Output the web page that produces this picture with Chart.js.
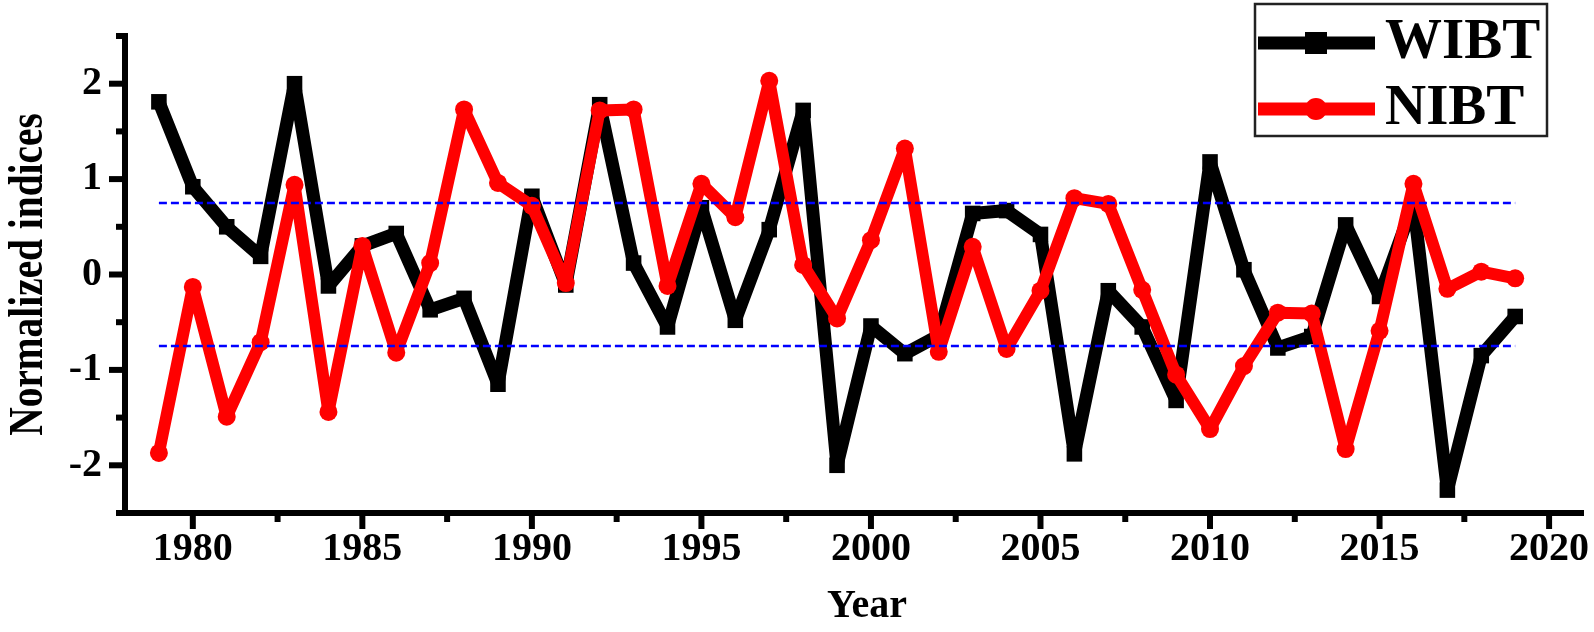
<!DOCTYPE html>
<html>
<head>
<meta charset="utf-8">
<script src="https://cdn.jsdelivr.net/npm/chart.js@4.4.0/dist/chart.umd.min.js"></script>
<style>
  html, body { margin: 0; padding: 0; background: #fff; }
  #wrap { width: 1594px; height: 632px; }
</style>
</head>
<body>
<div id="wrap"><canvas id="myChart" width="1594" height="632"></canvas></div>
<script>
// years 1979 - 2019
const years = [1979, 1980, 1981, 1982, 1983, 1984, 1985, 1986, 1987, 1988,
  1989, 1990, 1991, 1992, 1993, 1994, 1995, 1996, 1997, 1998,
  1999, 2000, 2001, 2002, 2003, 2004, 2005, 2006, 2007, 2008,
  2009, 2010, 2011, 2012, 2013, 2014, 2015, 2016, 2017, 2018, 2019];

const wibt = [1.81, 0.92, 0.50, 0.19, 2.00, -0.12, 0.30, 0.43, -0.37, -0.25,
  -1.15, 0.82, -0.11, 1.78, 0.12, -0.55, 0.70, -0.48, 0.47, 1.72,
  -2.00, -0.54, -0.83, -0.64, 0.64, 0.67, 0.42, -1.88, -0.17, -0.55,
  -1.32, 1.18, 0.05, -0.77, -0.65, 0.52, -0.23, 0.75, -2.26, -0.85, -0.44];

const nibt = [-1.87, -0.13, -1.49, -0.71, 0.94, -1.44, 0.30, -0.82, 0.12, 1.73,
  0.96, 0.72, -0.09, 1.72, 1.73, -0.12, 0.95, 0.60, 2.03, 0.10,
  -0.46, 0.36, 1.32, -0.81, 0.29, -0.78, -0.17, 0.80, 0.74, -0.16,
  -1.05, -1.62, -0.96, -0.40, -0.41, -1.83, -0.59, 0.95, -0.15, 0.03, -0.04];

// +-0.75 reference lines
const refYears = [1979, 2019];
const upperRef = [0.75, 0.75];
const lowerRef = [-0.75, -0.75];

const xLabels = [1980, 1985, 1990, 1995, 2000, 2005, 2010, 2015, 2020];
const yLabels = [-2, -1, 0, 1, 2];

const FONT = '"Liberation Serif", "Times New Roman", serif';

function pts(xs, ys) {
  return xs.map((x, i) => ({ x: x, y: ys[i] }));
}

// tick marks drawn outward, long at labels, short halfway
const axisTicks = {
  id: 'axisTicks',
  afterDraw(chart) {
    const ctx = chart.ctx;
    const xs = chart.scales.x, ys = chart.scales.y;
    const area = chart.chartArea;
    ctx.save();
    ctx.strokeStyle = '#000';
    ctx.lineWidth = 6;
    ctx.lineCap = 'butt';
    for (let v = xLabels[0]; v <= xLabels[xLabels.length - 1]; v += 2.5) {
      const px = xs.getPixelForValue(v);
      const len = xLabels.includes(v) ? 16 : 9;
      ctx.beginPath();
      ctx.moveTo(px, area.bottom);
      ctx.lineTo(px, area.bottom + len);
      ctx.stroke();
    }
    for (let v = ys.min; v <= ys.max + 0.001; v += 0.5) {
      const py = ys.getPixelForValue(v);
      const len = yLabels.includes(v) ? 16 : 9;
      ctx.beginPath();
      ctx.moveTo(area.left, py);
      ctx.lineTo(area.left - len, py);
      ctx.stroke();
    }

    // axis titles (the y one is narrow like in the figure)
    ctx.fillStyle = '#000';
    ctx.textAlign = 'center';
    ctx.textBaseline = 'alphabetic';
    ctx.font = 'bold 40px ' + FONT;
    ctx.fillText('Year', (area.left + area.right) / 2 + 13, 617);

    ctx.translate(42, (area.top + area.bottom) / 2);
    ctx.rotate(-Math.PI / 2);
    ctx.scale(0.82, 1);
    ctx.font = 'bold 48px ' + FONT;
    ctx.fillText('Normalized indices', 0, 0);
    ctx.restore();
  }
};

const boxLegend = {
  id: 'boxLegend',
  afterDraw(chart) {
    const ctx = chart.ctx;
    const items = [chart.data.datasets[3], chart.data.datasets[2]];
    const box = { x: 1255, y: 4, w: 292, h: 132 };
    ctx.save();
    ctx.fillStyle = '#fff';
    ctx.fillRect(box.x, box.y, box.w, box.h);
    ctx.strokeStyle = '#222';
    ctx.lineWidth = 2.5;
    ctx.strokeRect(box.x, box.y, box.w, box.h);
    items.forEach((ds, i) => {
      const cy = 43 + i * 66;
      ctx.strokeStyle = ds.borderColor;
      ctx.fillStyle = ds.borderColor;
      ctx.lineWidth = 13;
      ctx.beginPath();
      ctx.moveTo(box.x + 3, cy);
      ctx.lineTo(box.x + 120, cy);
      ctx.stroke();
      if (ds.pointStyle === 'rect') {
        ctx.fillRect(box.x + 50, cy - 11, 22, 22);
      } else {
        ctx.beginPath();
        ctx.arc(box.x + 61, cy, 11, 0, Math.PI * 2);
        ctx.fill();
      }
      ctx.fillStyle = '#000';
      ctx.font = 'bold 57px ' + FONT;
      ctx.textAlign = 'left';
      ctx.textBaseline = 'alphabetic';
      ctx.fillText(ds.label, box.x + 130, cy + 15);
    });
    ctx.restore();
  }
};

const ctx = document.getElementById('myChart');

new Chart(ctx, {
  type: 'line',
  data: {
    datasets: [
      {
        label: 'upper',
        data: pts(refYears, upperRef),
        borderColor: '#0000ff',
        borderWidth: 2.5,
        borderDash: [8, 4],
        pointRadius: 0
      },
      {
        label: 'lower',
        data: pts(refYears, lowerRef),
        borderColor: '#0000ff',
        borderWidth: 2.5,
        borderDash: [8, 4],
        pointRadius: 0
      },
      {
        label: 'NIBT',
        data: pts(years, nibt),
        borderColor: '#ff0000',
        backgroundColor: '#ff0000',
        borderWidth: 12,
        borderJoinStyle: 'round',
        borderCapStyle: 'round',
        pointStyle: 'circle',
        pointRadius: 9,
        pointBorderWidth: 0,
        tension: 0
      },
      {
        label: 'WIBT',
        data: pts(years, wibt),
        borderColor: '#000000',
        backgroundColor: '#000000',
        borderWidth: 13,
        borderJoinStyle: 'bevel',
        pointStyle: 'rect',
        pointRadius: 11,
        pointBorderWidth: 0,
        tension: 0
      }
    ]
  },
  options: {
    responsive: false,
    animation: false,
    devicePixelRatio: 1,
    layout: { padding: { top: 36, right: 5, left: 0, bottom: 0 } },
    plugins: {
      legend: { display: false },
      tooltip: { enabled: false }
    },
    scales: {
      x: {
        type: 'linear',
        min: 1978,
        max: 2021,
        grid: { display: false, drawTicks: false },
        border: { display: true, color: '#000', width: 6 },
        ticks: {
          autoSkip: false,
          maxRotation: 0,
          padding: 13,
          color: '#000',
          font: { family: FONT, size: 40, weight: 'bold' },
          callback: v => String(v)
        },
        afterBuildTicks(s) { s.ticks = xLabels.map(v => ({ value: v })); },
        title: { display: false },
        afterFit(s) {
          s.height = 119;
          s.paddingLeft = 0;
          s.paddingRight = 0;
        }
      },
      y: {
        min: -2.5,
        max: 2.5,
        grid: { display: false, drawTicks: false },
        border: { display: true, color: '#000', width: 6 },
        ticks: {
          autoSkip: false,
          padding: 23,
          color: '#000',
          font: { family: FONT, size: 40, weight: 'bold' },
          callback: v => String(v)
        },
        afterBuildTicks(s) { s.ticks = yLabels.map(v => ({ value: v })); },
        title: { display: false },
        afterFit(s) {
          s.width = 125;
          s.paddingTop = 0;
          s.paddingBottom = 0;
        }
      }
    }
  },
  plugins: [axisTicks, boxLegend]
});
</script>
</body>
</html>
